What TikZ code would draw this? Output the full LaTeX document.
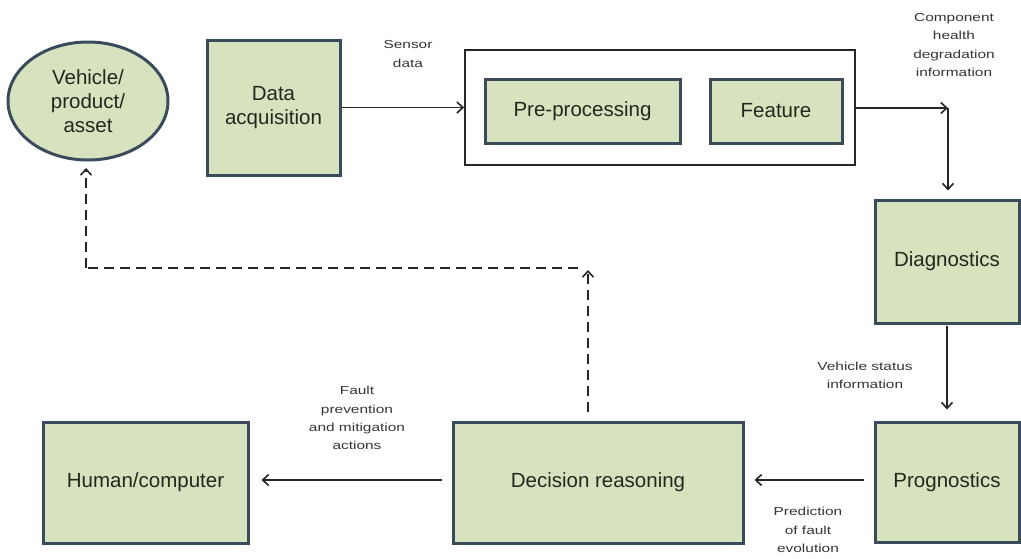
\documentclass[tikz,border=0pt]{standalone}
\usepackage{fontspec}
\setmainfont{Liberation Sans}
\newfontfamily\lblfont[FakeStretch=1.33]{Liberation Sans}
\usetikzlibrary{arrows.meta,shapes.geometric}
\definecolor{boxfill}{HTML}{D7E3BF}
\definecolor{boxline}{HTML}{3A4C5C}
\definecolor{boxtext}{HTML}{1F2A1C}
\definecolor{lbltext}{HTML}{353535}
\tikzset{
  block/.style={draw=boxline, line width=3pt, fill=boxfill, inner sep=0pt,
    text=boxtext, align=center, font=\fontsize{20.5}{24}\selectfont},
  lbl/.style={text=lbltext, align=center, inner sep=0pt,
    font=\lblfont\fontsize{11.6}{18.2}\selectfont},
  arr/.style={draw=black!85, line width=1.8pt,
    -{Straight Barb[length=6pt,width=11pt,line width=1.6pt]}},
  dasharr/.style={draw=black!85, line width=2pt, dash pattern=on 10pt off 6pt,
    -{Straight Barb[length=6pt,width=11pt,line width=1.6pt]}},
  dashlink/.style={draw=black!85, line width=2pt, dash pattern=on 10pt off 6pt},
}
\begin{document}
\begin{tikzpicture}[x=1pt,y=-1pt]
\useasboundingbox (0,0) rectangle (1021,558);

% asset and acquisition
\node[block, ellipse, minimum width=160pt, minimum height=118pt] (veh) at (88,101) {Vehicle/\\product/\\asset};
\node[block, minimum width=133pt, minimum height=135pt] (da) at (273.5,107.5) {Data\\acquisition};

% signal processing group
\node[draw=black!85, line width=1.8pt, minimum width=390pt, minimum height=115pt, inner sep=0pt] (outer) at (660,107.5) {};
\node[block, minimum width=195pt, minimum height=64pt] (pre) at (582.5,111) {Pre-processing};
\node[block, minimum width=132pt, minimum height=64pt] (feat) at (776,111) {Feature};

% health assessment
\node[block, minimum width=144pt, minimum height=123pt] (diag) at (947,261.5) {Diagnostics};
\node[block, minimum width=144pt, minimum height=120pt] (prog) at (947,482) {Prognostics};

% decision and output
\node[block, minimum width=290pt, minimum height=121pt] (dec) at (598,482.5) {Decision reasoning};
\node[block, minimum width=205pt, minimum height=121pt] (hum) at (145.5,482.5) {Human/computer};

% labels
\node[lbl] (lsens) at (408,54) {Sensor\\data};
\node[lbl] (lcomp) at (954,45) {Component\\health\\degradation\\information};
\node[lbl] (lstat) at (865,375) {Vehicle status\\information};
\node[lbl] (lpred) at (808,530) {Prediction\\of fault\\evolution};
\node[lbl] (lfault) at (357,418) {Fault\\prevention\\and mitigation\\actions};

% helper points
\coordinate (c1) at (948,108);
\coordinate (up) at (588,270);
\coordinate (hstart) at (578,268);
\coordinate (hcorner) at (86,268);
\coordinate (vtip) at (86,168);

% solid connectors
\draw[arr] (da.east) -- (outer.west);
\draw[arr] (outer.east |- c1) -- (c1);
\draw[arr, shorten >=8pt] (c1) -- (c1 |- diag.north);
\draw[arr, shorten <=1pt, shorten >=11pt] (diag.south) -- (prog.north);
\draw[arr, shorten <=10pt, shorten >=10pt] (prog.west |- 0,480) -- (dec.east |- 0,480);
\draw[arr, shorten <=10pt, shorten >=12pt] (dec.west |- 0,480) -- (hum.east |- 0,480);

% dashed feedback
\draw[dasharr, shorten <=9pt] (dec.north -| up) -- (up);
\draw[dashlink] (hstart) -- (hcorner);
\draw[dasharr] (hcorner) -- (vtip);
\end{tikzpicture}
\end{document}
